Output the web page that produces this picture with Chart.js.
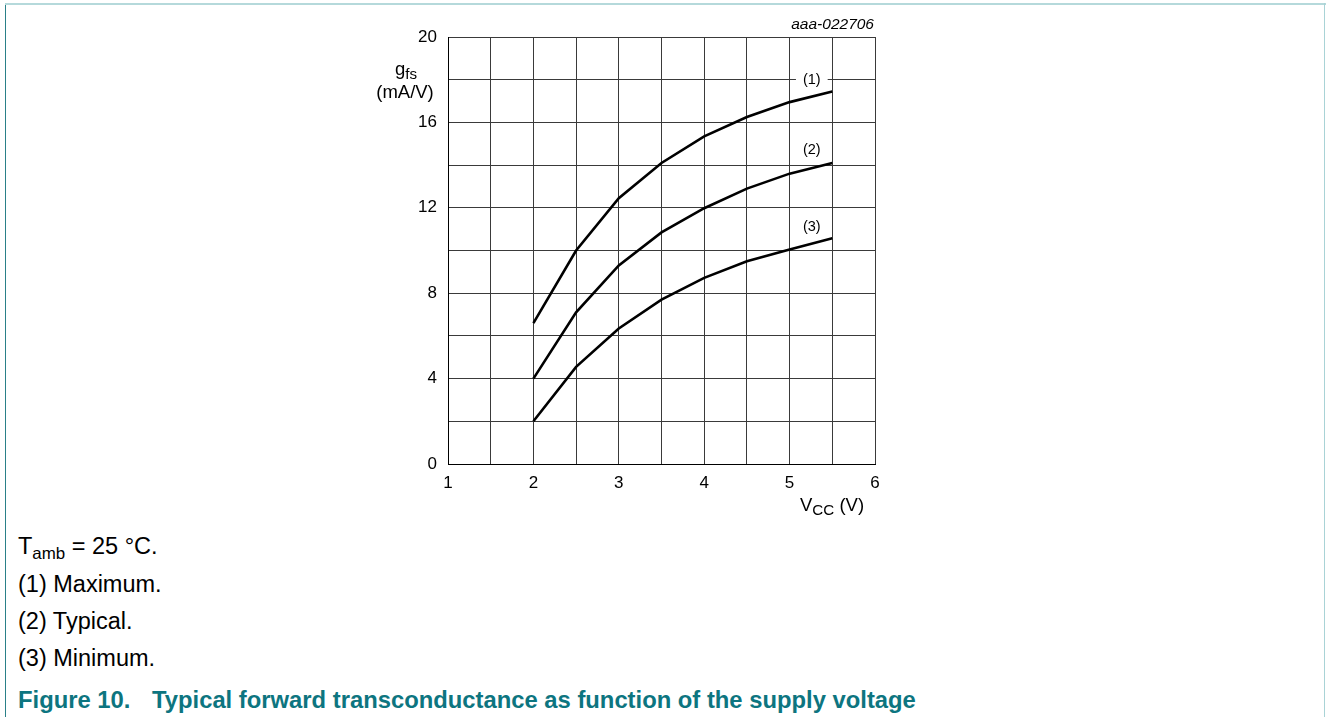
<!DOCTYPE html>
<html>
<head>
<meta charset="utf-8">
<script src="https://cdn.jsdelivr.net/npm/chart.js@4.4.1/dist/chart.umd.min.js"></script>
<style>
  body { margin:0; background:#fff; font-family:"Liberation Sans", Arial, sans-serif; }
  #page { position:relative; width:1326px; height:717px; overflow:hidden; background:#fff; }
  #chartBox { position:absolute; left:0; top:0; width:1326px; height:530px; }
  .txt { position:absolute; white-space:nowrap; color:#000; line-height:1; }
  .note { font-size:23.5px; left:18px; }
  .note sub { font-size:0.72em; vertical-align:-0.3em; line-height:0; }
  .ax sub { font-size:0.82em; vertical-align:-0.28em; line-height:0; }
  .ax { font-size:18.5px; }
  #title { left:18px; top:688px; font-size:23.8px; font-weight:bold; color:#0d7580; }
  #title .fig { display:inline-block; width:134px; }
</style>
</head>
<body>
<div id="page">
  <div style="position:absolute;left:5px;top:3px;width:1px;height:714px;background:#2a8088;"></div>
  <div style="position:absolute;left:5px;top:3px;width:1321px;height:2px;background:#b5d9db;"></div>
  <div style="position:absolute;left:1324px;top:3px;width:1px;height:714px;background:#a9d3d6;"></div>

  <div id="chartBox"><canvas id="chart_gfs"></canvas></div>

  <div class="txt" style="left:800px;top:16px;width:74px;font-size:15.5px;font-style:italic;"><span style="float:right">aaa-022706</span></div>
  <div class="txt ax" style="left:366px;top:60px;width:80px;text-align:center;">g<sub>fs</sub></div>
  <div class="txt ax" style="left:365px;top:83px;width:80px;text-align:center;">(mA/V)</div>
  <div class="txt ax" style="left:800px;top:496px;">V<sub>CC</sub> (V)</div>

  <div class="txt note" style="top:535px;">T<sub>amb</sub> = 25 °C.</div>
  <div class="txt note" style="top:573px;">(1) Maximum.</div>
  <div class="txt note" style="top:610px;">(2) Typical.</div>
  <div class="txt note" style="top:647px;">(3) Minimum.</div>
  <div class="txt" id="title"><span class="fig">Figure 10.</span>Typical forward transconductance as function of the supply voltage</div>
</div>

<script>
// supply voltage (V)
var vccValues = [2, 2.5, 3, 3.5, 4, 4.5, 5, 5.5];
// forward transconductance gfs (mA/V)
var gfsMax = [6.6, 10.0, 12.45, 14.1, 15.35, 16.25, 16.95, 17.45];
var gfsTyp = [4.0, 7.1, 9.3, 10.85, 11.98, 12.9, 13.6, 14.1];
var gfsMin = [2.0, 4.55, 6.35, 7.7, 8.72, 9.5, 10.05, 10.57];
var curveNames = ["(1)", "(2)", "(3)"];

var xTickLabels = [1, 2, 3, 4, 5, 6];
var yTickLabels = [0, 4, 8, 12, 16, 20];

function toPoints(ys){
  var pts = [];
  for (var i = 0; i < vccValues.length; i++){
    pts.push({x: vccValues[i], y: ys[i]});
  }
  return pts;
}

function makeSet(name, ys){
  return {
    label: name,
    data: toPoints(ys),
    borderColor: "#000",
    borderWidth: 2.6,
    pointRadius: 0,
    tension: 0,
    fill: false
  };
}

// curve tags (1) (2) (3) placed near the right end of each curve
var curveTags = {
  id: "curveTags",
  afterDatasetsDraw: function(chart){
    var ctx = chart.ctx;
    var xs = chart.scales.x, ys = chart.scales.y;
    var anchors = [[5.26, 18.0], [5.26, 14.72], [5.26, 11.1]];
    ctx.save();
    ctx.font = "14.5px 'Liberation Sans', Arial, sans-serif";
    ctx.textAlign = "center";
    ctx.textBaseline = "middle";
    for (var i = 0; i < curveNames.length; i++){
      var px = xs.getPixelForValue(anchors[i][0]);
      var py = ys.getPixelForValue(anchors[i][1]);
      var w = ctx.measureText(curveNames[i]).width;
      ctx.fillStyle = "#fff";
      ctx.fillRect(px - w/2 - 7, py - 4, w + 14, 8);
      ctx.fillStyle = "#000";
      ctx.fillText(curveNames[i], px, py);
    }
    ctx.restore();
  }
};

function load(){
  var config = {
    type: "line",
    data: {
      datasets: [makeSet(curveNames[0], gfsMax), makeSet(curveNames[1], gfsTyp), makeSet(curveNames[2], gfsMin)]
    },
    options: {
      responsive: true,
      maintainAspectRatio: false,
      animation: false,
      layout: { padding: { left: 398, right: 451, top: 37, bottom: 30 } },
      plugins: { legend: { display: false }, tooltip: { enabled: false } },
      scales: {
        x: {
          type: "linear", min: 1, max: 6,
          afterFit: function(s){ s.height = 36; },
          grid: { color: "#3a3a3a", lineWidth: 1, drawTicks: false },
          border: { display: true, color: "#000", width: 1 },
          ticks: {
            stepSize: 0.5, autoSkip: false, maxRotation: 0, padding: 9,
            color: "#000", font: { family: "'Liberation Sans', Arial, sans-serif", size: 17 },
            callback: function(v){ return xTickLabels.indexOf(v) >= 0 ? String(v) : ""; }
          }
        },
        y: {
          type: "linear", min: 0, max: 20,
          afterFit: function(s){ s.width = 50; },
          grid: { color: "#3a3a3a", lineWidth: 1, drawTicks: false },
          border: { display: true, color: "#000", width: 1 },
          ticks: {
            stepSize: 2, autoSkip: false, padding: 11,
            color: "#000", font: { family: "'Liberation Sans', Arial, sans-serif", size: 17 },
            callback: function(v){ return yTickLabels.indexOf(v) >= 0 ? String(v) : ""; }
          }
        }
      }
    },
    plugins: [curveTags]
  };
  new Chart(document.getElementById("chart_gfs").getContext("2d"), config);
}

document.addEventListener("DOMContentLoaded", load, false);
</script>
</body>
</html>
